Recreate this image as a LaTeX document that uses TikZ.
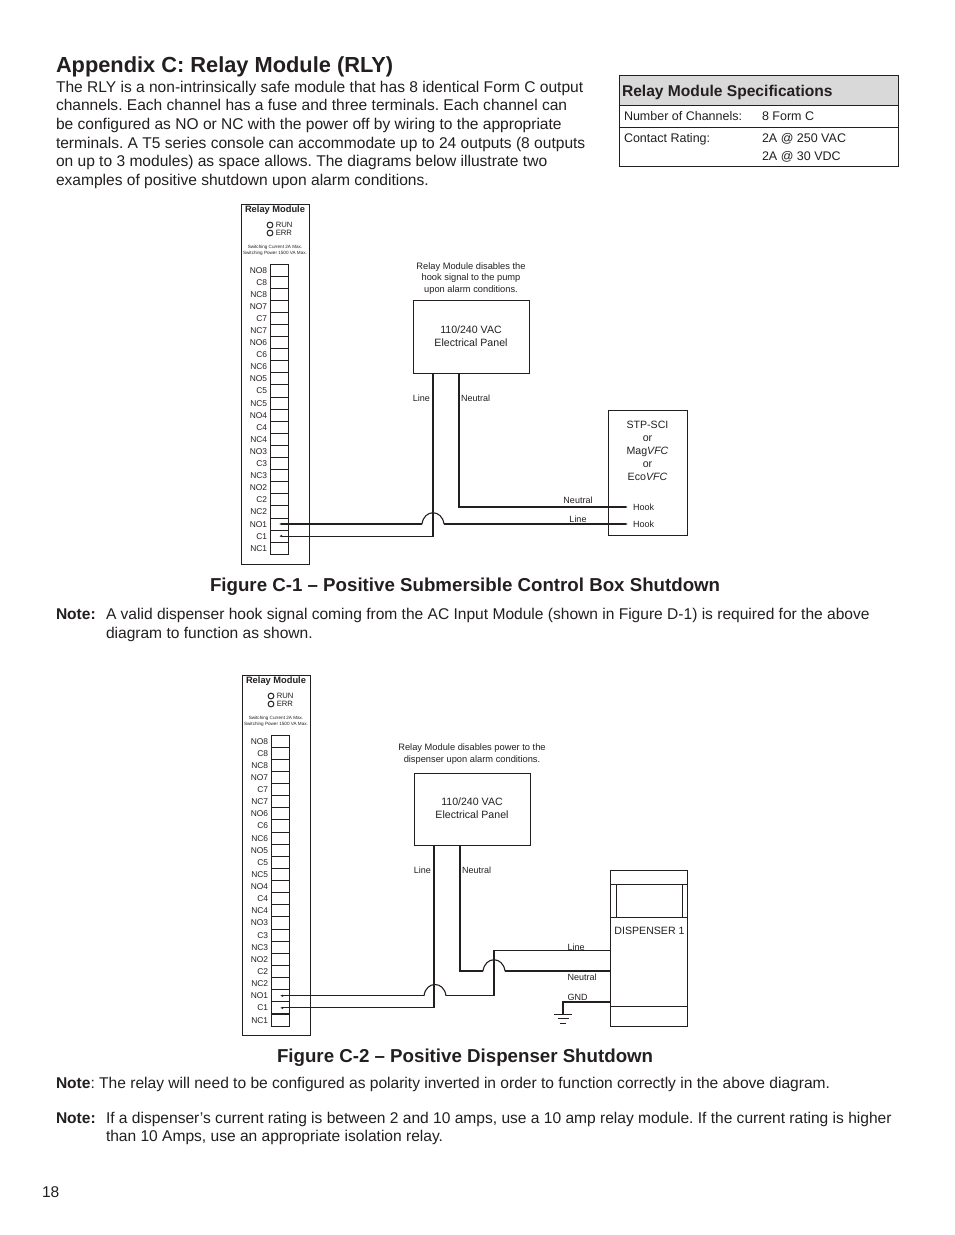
\documentclass[tikz,border=0pt]{standalone}
\usepackage{fontspec}
\setmainfont{Liberation Sans}
\usetikzlibrary{arrows.meta}
\definecolor{ink}{HTML}{231F20}
\newcommand{\fs}[1]{\fontsize{#1}{#1}\selectfont}
\tikzset{
  txt/.style={inner sep=0pt,outer sep=0pt,text=ink,anchor=base west},
  body/.style={txt,font=\fs{15.56}},
  head/.style={txt,font=\fs{18.7}\bfseries},
  tiny8/.style={text=ink,inner sep=0pt,font=\fs{8.4}},
  boxn/.style={draw=ink,line width=1pt,inner sep=0pt,text=ink,align=center,font=\fs{10.6}},
  cell/.style={draw=ink,line width=0.9pt,minimum width=18pt,minimum height=12.1pt,inner sep=0pt},
  wire/.style={draw=ink,line width=1.1pt},
  tip/.style={-{Latex[length=3pt,width=2.4pt]}},
  lbl/.style={text=ink,inner sep=0pt,font=\fs{9}},
  ln/.style={draw=ink,line width=1pt}
}
% #1 prefix, #2 dx, #3 dy, #4 row pitch
\newcommand{\relaymod}[4]{%
\begin{scope}[shift={(#2,#3)}]
  \node[boxn,minimum width=68pt,minimum height=360pt] (#1-outer) at (275,384) {};
  \node[text=ink,inner sep=0pt,font=\fs{9.3}\bfseries] (#1-title) at (275,209.7) {Relay Module};
  \node[draw=ink,circle,line width=1pt,minimum size=5.8pt,inner sep=0pt] (#1-run) at (270,225) {};
  \node[draw=ink,circle,line width=1pt,minimum size=5.8pt,inner sep=0pt] (#1-err) at (270,233) {};
  \node[text=ink,inner sep=0pt,anchor=west,font=\fs{7.7}] (#1-runl) at (275.6,225) {RUN};
  \node[text=ink,inner sep=0pt,anchor=west,font=\fs{7.7}] (#1-errl) at (275.6,233) {ERR};
  \node[text=ink,inner sep=0pt,font=\fs{4.6}] (#1-sw1) at (275,247) {Switching Current 2A Max.};
  \node[text=ink,inner sep=0pt,font=\fs{4.6}] (#1-sw2) at (275,253.5) {Switching Power 1500 VA Max.};
  \foreach \t [count=\i from 0] in {NO8,C8,NC8,NO7,C7,NC7,NO6,C6,NC6,NO5,C5,NC5,NO4,C4,NC4,NO3,C3,NC3,NO2,C2,NC2,NO1,C1,NC1}{
    \node[cell] (#1-\t) at (279,{270+\i*#4}) {};
    \node[tiny8,anchor=base east] (#1-\t-l) at (267.3,{273+\i*#4}) {\t};
  }
\end{scope}}
\begin{document}
\frenchspacing
\begin{tikzpicture}[x=1pt,y=-1pt]
\useasboundingbox (0,0) rectangle (954,1235);
\fill[white] (0,0) rectangle (954,1235);

\node[txt,font=\fs{21.8}\bfseries] (title) at (56,72) {Appendix C: Relay Module (RLY)};
\node[body] (p1) at (56,92) {The RLY is a non-intrinsically safe module that has 8 identical Form C output};
\node[body] (p2) at (56,110.5) {channels. Each channel has a fuse and three terminals. Each channel can};
\node[body] (p3) at (56,129) {be configured as NO or NC with the power off by wiring to the appropriate};
\node[body] (p4) at (56,148) {terminals. A T5 series console can accommodate up to 24 outputs (8 outputs};
\node[body] (p5) at (56,166.5) {on up to 3 modules) as space allows. The diagrams below illustrate two};
\node[body] (p6) at (56,185) {examples of positive shutdown upon alarm conditions.};

% spec table
\fill[ink!17] (619,75) rectangle (898,105);
\draw[ln] (619,75) rectangle (898,166);
\draw[ln] (619,105) -- (898,105);
\draw[ln] (619,127) -- (898,127);
\node[txt,font=\fs{15.6}\bfseries] (spec) at (622,96) {Relay Module Specifications};
\node[txt,font=\fs{12.5}] (s1) at (624,120) {Number of Channels:};
\node[txt,font=\fs{12.5}] (s2) at (762,120) {8 Form C};
\node[txt,font=\fs{12.5}] (s3) at (624,142) {Contact Rating:};
\node[txt,font=\fs{12.5}] (s4) at (762,142) {2A @ 250 VAC};
\node[txt,font=\fs{12.5}] (s5) at (762,160) {2A @ 30 VDC};

% ---------- Figure C-1
\relaymod{ma}{0}{0}{12.095}
\node[boxn,minimum width=116pt,minimum height=73pt] (panela) at (471,336.5) {110/240 VAC\\[2.4pt]Electrical Panel};
\node[lbl,align=center,font=\fs{9.3}] (notea) at (471,278.5) {Relay Module disables the\\[1.8pt]hook signal to the pump\\[1.8pt]upon alarm conditions.};
\node[lbl,anchor=east] (linea) at (430,398) {Line};
\node[lbl,anchor=west] (neua) at (461,398) {Neutral};
\node[boxn,minimum width=79pt,minimum height=125pt] (stp) at (647.5,472.5) {};
\node[inner sep=0pt,text=ink,font=\fs{10.6},align=center] (stpt) at (647.5,451) {STP-SCI\\[2.4pt]or\\[2.4pt]Mag\textit{VFC}\\[2.4pt]or\\[2.4pt]Eco\textit{VFC}};
\coordinate (h1) at (628,507);
\path (ma-NO1.center) ++(349,0) coordinate (h2);
\node[lbl,anchor=west] (h1l) at (633,507) {Hook};
\node[lbl,anchor=west] (h2l) at (633,524) {Hook};
\node[lbl] (wn) at (578,500.5) {Neutral};
\node[lbl] (wl) at (578,519) {Line};
\coordinate (ax) at (433,0);
\coordinate (nx) at (459,0);
% C1 - line
\draw[wire,tip] (panela.south -| ax) -- (ma-C1.center -| ax) -- (ma-C1.center);
% NO1 with jump
\path (ma-NO1.center) ++(143,0) coordinate (j1);
\path (ma-NO1.center) ++(165,0) coordinate (j2);
\draw[wire,tip] (j1) -- (ma-NO1.center);
\draw[wire] (j1) .. controls ++(2,-15) and ++(-2,-15) .. (j2);
\draw[wire,tip] (j2) -- (h2);
% neutral
\draw[wire,tip] (panela.south -| nx) -- (h1 -| nx) -- (h1);

\node[head] (figa) at (210,591) {Figure C-1 -- Positive Submersible Control Box Shutdown};
\node[body] (n1a) at (56,619) {\textbf{Note:}};
\node[body] (n1b) at (106,619) {A valid dispenser hook signal coming from the AC Input Module (shown in Figure D-1) is required for the above};
\node[body] (n1c) at (106,638) {diagram to function as shown.};

% ---------- Figure C-2
\relaymod{mb}{1}{471}{12.13}
\node[boxn,minimum width=116pt,minimum height=72pt] (panelb) at (472,809) {\raisebox{1pt}{110/240 VAC}\\[2.4pt]\raisebox{1pt}{Electrical Panel}};
\node[lbl,align=center,font=\fs{9.3}] (noteb) at (472,754.5) {Relay Module disables power to the\\[2.6pt]dispenser upon alarm conditions.};
\node[lbl,anchor=east] (lineb) at (431,870) {Line};
\node[lbl,anchor=west] (neub) at (462,870) {Neutral};
\node[boxn,minimum width=77pt,minimum height=156pt] (disp) at (648.5,948) {};
\draw[ln] (610,884) -- (687,884);
\draw[ln] (610,917) -- (687,917);
\draw[ln] (610,1006) -- (687,1006);
\draw[ln] (616,884) -- (616,917);
\draw[ln] (682,884) -- (682,917);
\node[inner sep=0pt,text=ink,font=\fs{10.6}] (dispt) at (649.5,930.5) {DISPENSER 1};
\node[lbl,anchor=west] (bl) at (567.5,947) {Line};
\node[lbl,anchor=west] (bn) at (567.5,977) {Neutral};
\node[lbl,anchor=west] (bg) at (567.5,997) {GND};
\coordinate (bax) at (434,0);
\coordinate (bnx) at (460,0);
\draw[wire,tip] (panelb.south -| bax) -- (mb-C1.center -| bax) -- (mb-C1.center);
\path (mb-NO1.center) ++(144,0) coordinate (k1);
\path (mb-NO1.center) ++(166,0) coordinate (k2);
\path (mb-NO1.center) ++(214,0) coordinate (k3);
\path (k3) ++(0,-45) coordinate (k4);
\draw[wire,tip] (k1) -- (mb-NO1.center);
\draw[wire] (k1) .. controls ++(2,-15) and ++(-2,-15) .. (k2);
\draw[wire] (k2) -- (k3) -- (k4) -- (k4 -| disp.west);
\coordinate (m1) at (483,971);
\coordinate (m2) at (505,971);
\draw[wire] (panelb.south -| bnx) -- (m1 -| bnx) -- (m1);
\draw[wire] (m1) .. controls ++(2,-15) and ++(-2,-15) .. (m2);
\draw[wire] (m2) -- (m2 -| disp.west);
\coordinate (g1) at (563,1002);
\coordinate (g2) at (563,1014);
\draw[wire] (g1 -| disp.west) -- (g1) -- (g2);
\draw[ln] (554,1014) -- (572,1014);
\draw[ln] (557.5,1018.5) -- (568.5,1018.5);
\draw[ln] (560,1023) -- (566,1023);

\node[head] (figb) at (277,1062) {Figure C-2 -- Positive Dispenser Shutdown};
\node[body] (n2) at (56,1088) {\textbf{Note}: The relay will need to be configured as polarity inverted in order to function correctly in the above diagram.};
\node[body] (n3a) at (56,1123) {\textbf{Note:}};
\node[body] (n3b) at (106,1123) {If a dispenser’s current rating is between 2 and 10 amps, use a 10 amp relay module. If the current rating is higher};
\node[body] (n3c) at (106,1141) {than 10 Amps, use an appropriate isolation relay.};
\node[body] (pg) at (42,1197) {18};
\end{tikzpicture}
\end{document}
